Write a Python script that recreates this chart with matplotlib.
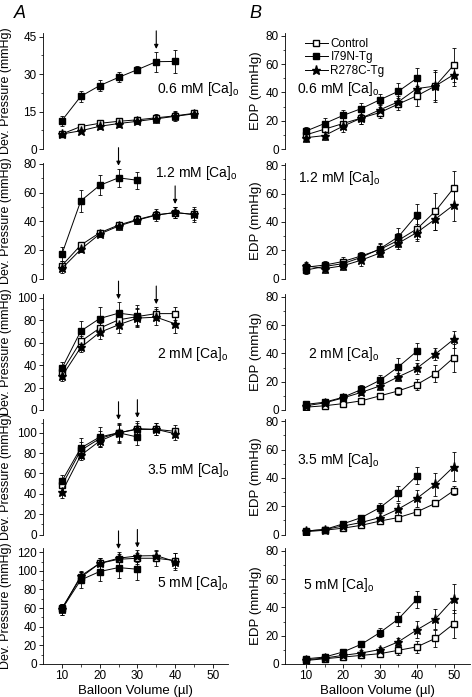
import numpy as np
import matplotlib.pyplot as plt

plt.rcParams['font.family'] = ['Liberation Sans', 'DejaVu Sans']
plt.rcParams['mathtext.fontset'] = 'custom'
plt.rcParams['mathtext.rm'] = 'Liberation Sans'

vol_left = np.array([10, 15, 20, 25, 30, 35, 40, 45])
vol_right = np.array([10, 15, 20, 25, 30, 35, 40, 45, 50])
ca_labels = ['0.6', '1.2', '2', '3.5', '5']
series_names = ['Control', 'I79N-Tg', 'R278C-Tg']

# Developed pressure (mmHg), panel A
dev_ctl = [[6, 9, 10.3, 11.1, 11.7, 12.5, 13.3, 14.3],
           [9, 23.3, 31.9, 37.3, 41.2, 44.5, 46, 44.7],
           [34, 61.2, 73, 80.4, 83.4, 86, 86],
           [48.2, 82.7, 94.2, 100, 103.3, 103.3, 101.4],
           [59.8, 93, 108, 112.4, 113.5, 113.5, 111]]
dev_ctl_err = [[1, 1.2, 1.2, 1.2, 1.2, 1.5, 1.5, 1.5],
               [3, 2, 2, 2, 3, 4, 4, 5],
               [6, 5, 5, 6, 8, 6, 6],
               [5, 8, 8, 8, 6, 6, 6],
               [5, 6, 6, 6, 6, 8, 8]]
dev_i79 = [[11.4, 21.1, 25.4, 28.7, 31.8, 35, 35.1],
           [17, 54.2, 65, 70.3, 68.6],
           [37.2, 70.4, 81.6, 86.4, 84.3],
           [52.5, 85, 95.8, 100, 95.8],
           [58.7, 90.2, 99.2, 103.5, 101.7]]
dev_i79_err = [[2, 2.2, 2.3, 2, 1.5, 4, 4.7],
               [5, 7.5, 7, 6.5, 6],
               [6, 9, 10, 10, 9],
               [6, 10, 10, 10, 8],
               [6, 9, 10, 11, 12]]
dev_r278 = [[6, 7.3, 9.1, 10.2, 11.1, 12.1, 13.1, 14.1],
            [7, 20.3, 31, 36.6, 40.8, 44.2, 46.1, 44.7],
            [30, 55.8, 69.2, 76, 82, 82.8, 76.9],
            [41.6, 77.8, 91.8, 99.7, 104, 103.3, 99],
            [58.7, 94.5, 108, 113.5, 116, 116.3, 110]]
dev_r278_err = [[1, 1, 1, 1.2, 1.2, 1.5, 2, 1.5],
                [3, 2, 2, 3, 3, 3, 4, 4],
                [4, 4, 6, 7, 8, 7, 8],
                [6, 5, 5, 9, 8, 6, 6],
                [6, 5, 6, 7, 6, 6, 9]]
arrow_vols = [[35], [25, 40], [25, 35], [25, 30], [25, 30]]

# End-diastolic pressure (mmHg), panel B
edp_ctl = [[10, 14, 18, 21.9, 25.8, 31.8, 37.6, 44.5, 59.3],
           [8, 9.5, 12, 16, 20.5, 27, 35, 47.5, 64],
           [2, 3, 4.5, 6.5, 10, 13.5, 18, 25.5, 37],
           [2, 3, 4.5, 6.5, 9.5, 12, 16, 22, 31],
           [2.5, 3.7, 4.9, 6.1, 7.3, 9.7, 12.1, 18.1, 28.4]]
edp_ctl_err = [[4, 4, 4, 4, 4, 4, 7, 10, 12],
               [3, 3, 3, 3, 4, 5, 7, 13, 12],
               [1, 1, 1, 1, 2, 3, 4, 6, 10],
               [1, 1, 1, 1, 1, 1, 1, 2, 3],
               [1, 1, 1, 1, 2, 3, 4, 6, 10]]
edp_i79 = [[12.7, 18, 23.7, 28.6, 34.8, 40.8, 50],
           [6, 8.5, 10.5, 15, 21, 29.5, 45],
           [4, 5.5, 9, 14.5, 21, 30.5, 41.5],
           [2.5, 3.5, 7.5, 12, 19, 29, 41.5],
           [3.7, 4.9, 8.5, 14, 22.2, 31.8, 45.7]]
edp_i79_err = [[3, 4, 4, 4, 4, 6, 7],
               [3, 3, 3, 3, 4, 6, 8],
               [2, 2, 2, 3, 4, 6, 6],
               [1, 1, 2, 2, 3, 5, 6],
               [2, 1, 2, 2, 3, 5, 6]]
edp_r278 = [[8, 9.5, 16.1, 21.9, 27.7, 33.4, 42.7, 44.5, 52.6],
            [9, 7, 9, 13, 18, 25, 32.5, 42, 52],
            [3, 5, 8.5, 12.5, 17, 23.5, 29.5, 39.5, 50],
            [2.5, 3.5, 6, 8.5, 12, 18, 25.5, 35.5, 48],
            [3, 4.2, 6.1, 7.8, 10.2, 15.7, 24.1, 31.8, 46.2]]
edp_r278_err = [[3, 3, 4, 4, 4, 4, 6, 11, 8],
                [3, 3, 3, 4, 3, 4, 6, 8, 11],
                [1, 2, 2, 2, 3, 3, 4, 4, 6],
                [1, 1, 1, 2, 3, 4, 6, 8, 10],
                [1, 1, 2, 2, 2, 3, 6, 7, 10]]

# layout (pixels of a 472x697 figure)
W, H = 472, 697
row_bottom = [149, 278.5, 410, 534.5, 664]
ax_h = 116
left_ylim = [46.5, 81, 103.5, 114, 124.5]
left_yticks = [np.arange(0, 46, 15), np.arange(0, 81, 20), np.arange(0, 101, 20),
               np.arange(0, 101, 20), np.arange(0, 121, 20)]
left_text_pos = [(0.616, 0.517), (0.605, 0.91), (0.616, 0.483), (0.562, 0.556), (0.616, 0.698)]
right_text_pos = [(0.063, 0.513), (0.07, 0.864), (0.124, 0.48), (0.063, 0.642), (0.099, 0.681)]

styles = [dict(marker='s', ms=4, mfc='white', mec='k'),
          dict(marker='s', ms=4, mfc='k', mec='k'),
          dict(marker='*', ms=6.5, mfc='k', mec='k')]

fig = plt.figure(figsize=(W / 100, H / 100), dpi=100)


def style_axes(ax, bottom_row):
    for s in ['top', 'right']:
        ax.spines[s].set_visible(False)
    ax.spines['left'].set_linewidth(0.6)
    ax.spines['bottom'].set_linewidth(0.6)
    ax.tick_params(which='major', direction='out', length=3, width=0.6, labelsize=8.5, pad=1.5)
    ax.tick_params(which='minor', direction='out', length=1.8, width=0.5)
    if not bottom_row:
        ax.spines['bottom'].set_visible(False)
        ax.tick_params(axis='x', which='both', bottom=False, labelbottom=False)
    else:
        ax.set_xticks([10, 20, 30, 40, 50])
        ax.set_xticks([15, 25, 35, 45], minor=True)
        ax.set_xlabel('Balloon Volume (\u00b5l)', fontsize=9.5, labelpad=2)


def draw_series(ax, xs, ys_list, errs_list):
    for ys, es, st in zip(ys_list, errs_list, styles):
        n = len(ys)
        ax.errorbar(xs[:n], ys, yerr=es, color='k', lw=0.7, elinewidth=0.6,
                    capsize=1.6, capthick=0.6, **st)


for i in range(5):
    bottom = (H - row_bottom[i]) / H
    h = ax_h / H

    # panel A
    ax = fig.add_axes([43 / W, bottom, 185 / W, h])
    draw_series(ax, vol_left, [dev_ctl[i], dev_i79[i], dev_r278[i]],
                [dev_ctl_err[i], dev_i79_err[i], dev_r278_err[i]])
    ax.set_xlim(5, 54)
    ax.set_ylim(0, left_ylim[i])
    ax.set_yticks(left_yticks[i])
    step = left_yticks[i][1] - left_yticks[i][0]
    ax.set_yticks(np.arange(step / 2, left_ylim[i], step), minor=True)
    style_axes(ax, i == 4)
    ax.set_ylabel('Dev. Pressure (mmHg)', fontsize=9)
    ax.yaxis.set_label_coords(-0.17, 0.5)
    ax.text(left_text_pos[i][0], left_text_pos[i][1], ca_labels[i] + r' mM [Ca]$_\mathrm{o}$',
            transform=ax.transAxes, fontsize=10, va='center', ha='left')
    for v in arrow_vols[i]:
        k = list(vol_left).index(v)
        tops = []
        for ys, es in zip([dev_ctl[i], dev_i79[i], dev_r278[i]],
                          [dev_ctl_err[i], dev_i79_err[i], dev_r278_err[i]]):
            if k < len(ys):
                tops.append(ys[k] + es[k])
        ax.annotate('', xy=(v, max(tops)), xytext=(0, 15), textcoords='offset points',
                    arrowprops=dict(arrowstyle='-|>', color='k', lw=0.8,
                                    mutation_scale=6, shrinkA=0, shrinkB=2))

    # panel B
    ax = fig.add_axes([285 / W, bottom, 185 / W, h])
    draw_series(ax, vol_right, [edp_ctl[i], edp_i79[i], edp_r278[i]],
                [edp_ctl_err[i], edp_i79_err[i], edp_r278_err[i]])
    ax.set_xlim(4.3, 54.4)
    ax.set_ylim(0, 82)
    ax.set_yticks(np.arange(0, 81, 20))
    ax.set_yticks(np.arange(10, 81, 20), minor=True)
    style_axes(ax, i == 4)
    ax.set_ylabel('EDP (mmHg)', fontsize=9.5)
    ax.yaxis.set_label_coords(-0.124, 0.5)
    ax.text(right_text_pos[i][0], right_text_pos[i][1], ca_labels[i] + r' mM [Ca]$_\mathrm{o}$',
            transform=ax.transAxes, fontsize=10, va='center', ha='left')
    if i == 0:
        handles = [plt.Line2D([], [], color='k', lw=0.7, **st) for st in styles]
        ax.legend(handles, series_names, loc='upper left', bbox_to_anchor=(0.08, 1.0),
                  frameon=False, fontsize=8.5, handlelength=2.0, handletextpad=0.2,
                  labelspacing=0.15, borderaxespad=0)

fig.text(20 / W, 1 - 14 / H, 'A', fontsize=13, style='italic', ha='center', va='center')
fig.text(255 / W, 1 - 14 / H, 'B', fontsize=13, style='italic', ha='center', va='center')

plt.savefig('out.png', dpi=100)
